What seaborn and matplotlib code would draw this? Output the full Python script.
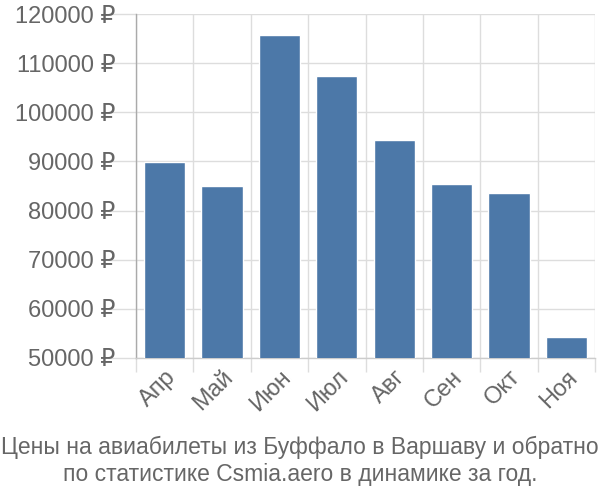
import matplotlib
matplotlib.use("Agg")
import matplotlib.pyplot as plt
import seaborn as sns
import pandas as pd
import numpy as np
from matplotlib.ticker import FixedLocator, FuncFormatter

months = ["Апр", "Май", "Июн", "Июл", "Авг", "Сен", "Окт", "Ноя"]
prices = [89900, 85000, 115700, 107400, 94400, 85400, 83600, 54300]
yticks = [50000, 60000, 70000, 80000, 90000, 100000, 110000, 120000]
title_lines = ["Цены на авиабилеты из Буффало в Варшаву и обратно",
               "по статистике Csmia.aero в динамике за год."]

sns.set_theme(style="white")
plt.rcParams['font.family'] = ['Liberation Sans', 'DejaVu Sans']

df = pd.DataFrame({"month": months, "price": prices})

fig = plt.figure(figsize=(6, 5), dpi=100)
ax = fig.add_axes([136/600, 142/500, 459/600, 344/500])

sns.barplot(data=df, x="month", y="price", color="#4c78a8", saturation=1,
            width=0.72, ax=ax, zorder=3)

ax.set_ylim(50000, 120000)
ax.set_xlim(-0.5, len(months) - 0.5)
ax.yaxis.set_major_locator(FixedLocator(yticks))
ax.yaxis.set_major_formatter(FuncFormatter(lambda v, p: f"{int(v)} ₽"))
ax.xaxis.set_minor_locator(FixedLocator(np.arange(-0.5, len(months), 1.0)))

grid_c = "#dddddd"
ax.grid(False)
ax.grid(True, axis="y", which="major", color=grid_c, linewidth=1, zorder=0)
ax.grid(True, axis="x", which="minor", color=grid_c, linewidth=1, zorder=0)

ax.tick_params(axis="y", which="major", length=20, color=grid_c, width=1,
               labelsize=17, labelcolor="#666666", pad=-5, left=True)
ax.tick_params(axis="x", which="major", length=0, labelsize=17,
               labelcolor="#666666", pad=6)
ax.tick_params(axis="x", which="minor", length=10, color=grid_c, width=1, bottom=True)

for lbl in ax.get_xticklabels():
    lbl.set_rotation(45)
    lbl.set_ha("right")
    lbl.set_rotation_mode("anchor")

for s in ["top", "right"]:
    ax.spines[s].set_visible(False)
ax.spines["left"].set_color("#aaaaaa")
ax.spines["bottom"].set_color("#cccccc")
ax.spines["left"].set_linewidth(1)
ax.spines["bottom"].set_linewidth(1)

ax.set_xlabel("")
ax.set_ylabel("")

fig.text(0.5, 1 - 447/500, title_lines[0], ha="center", va="center",
         fontsize=16.5, color="#666666")
fig.text(0.5, 1 - 474/500, title_lines[1], ha="center", va="center",
         fontsize=16.5, color="#666666")

fig.savefig("out.png", dpi=100)
